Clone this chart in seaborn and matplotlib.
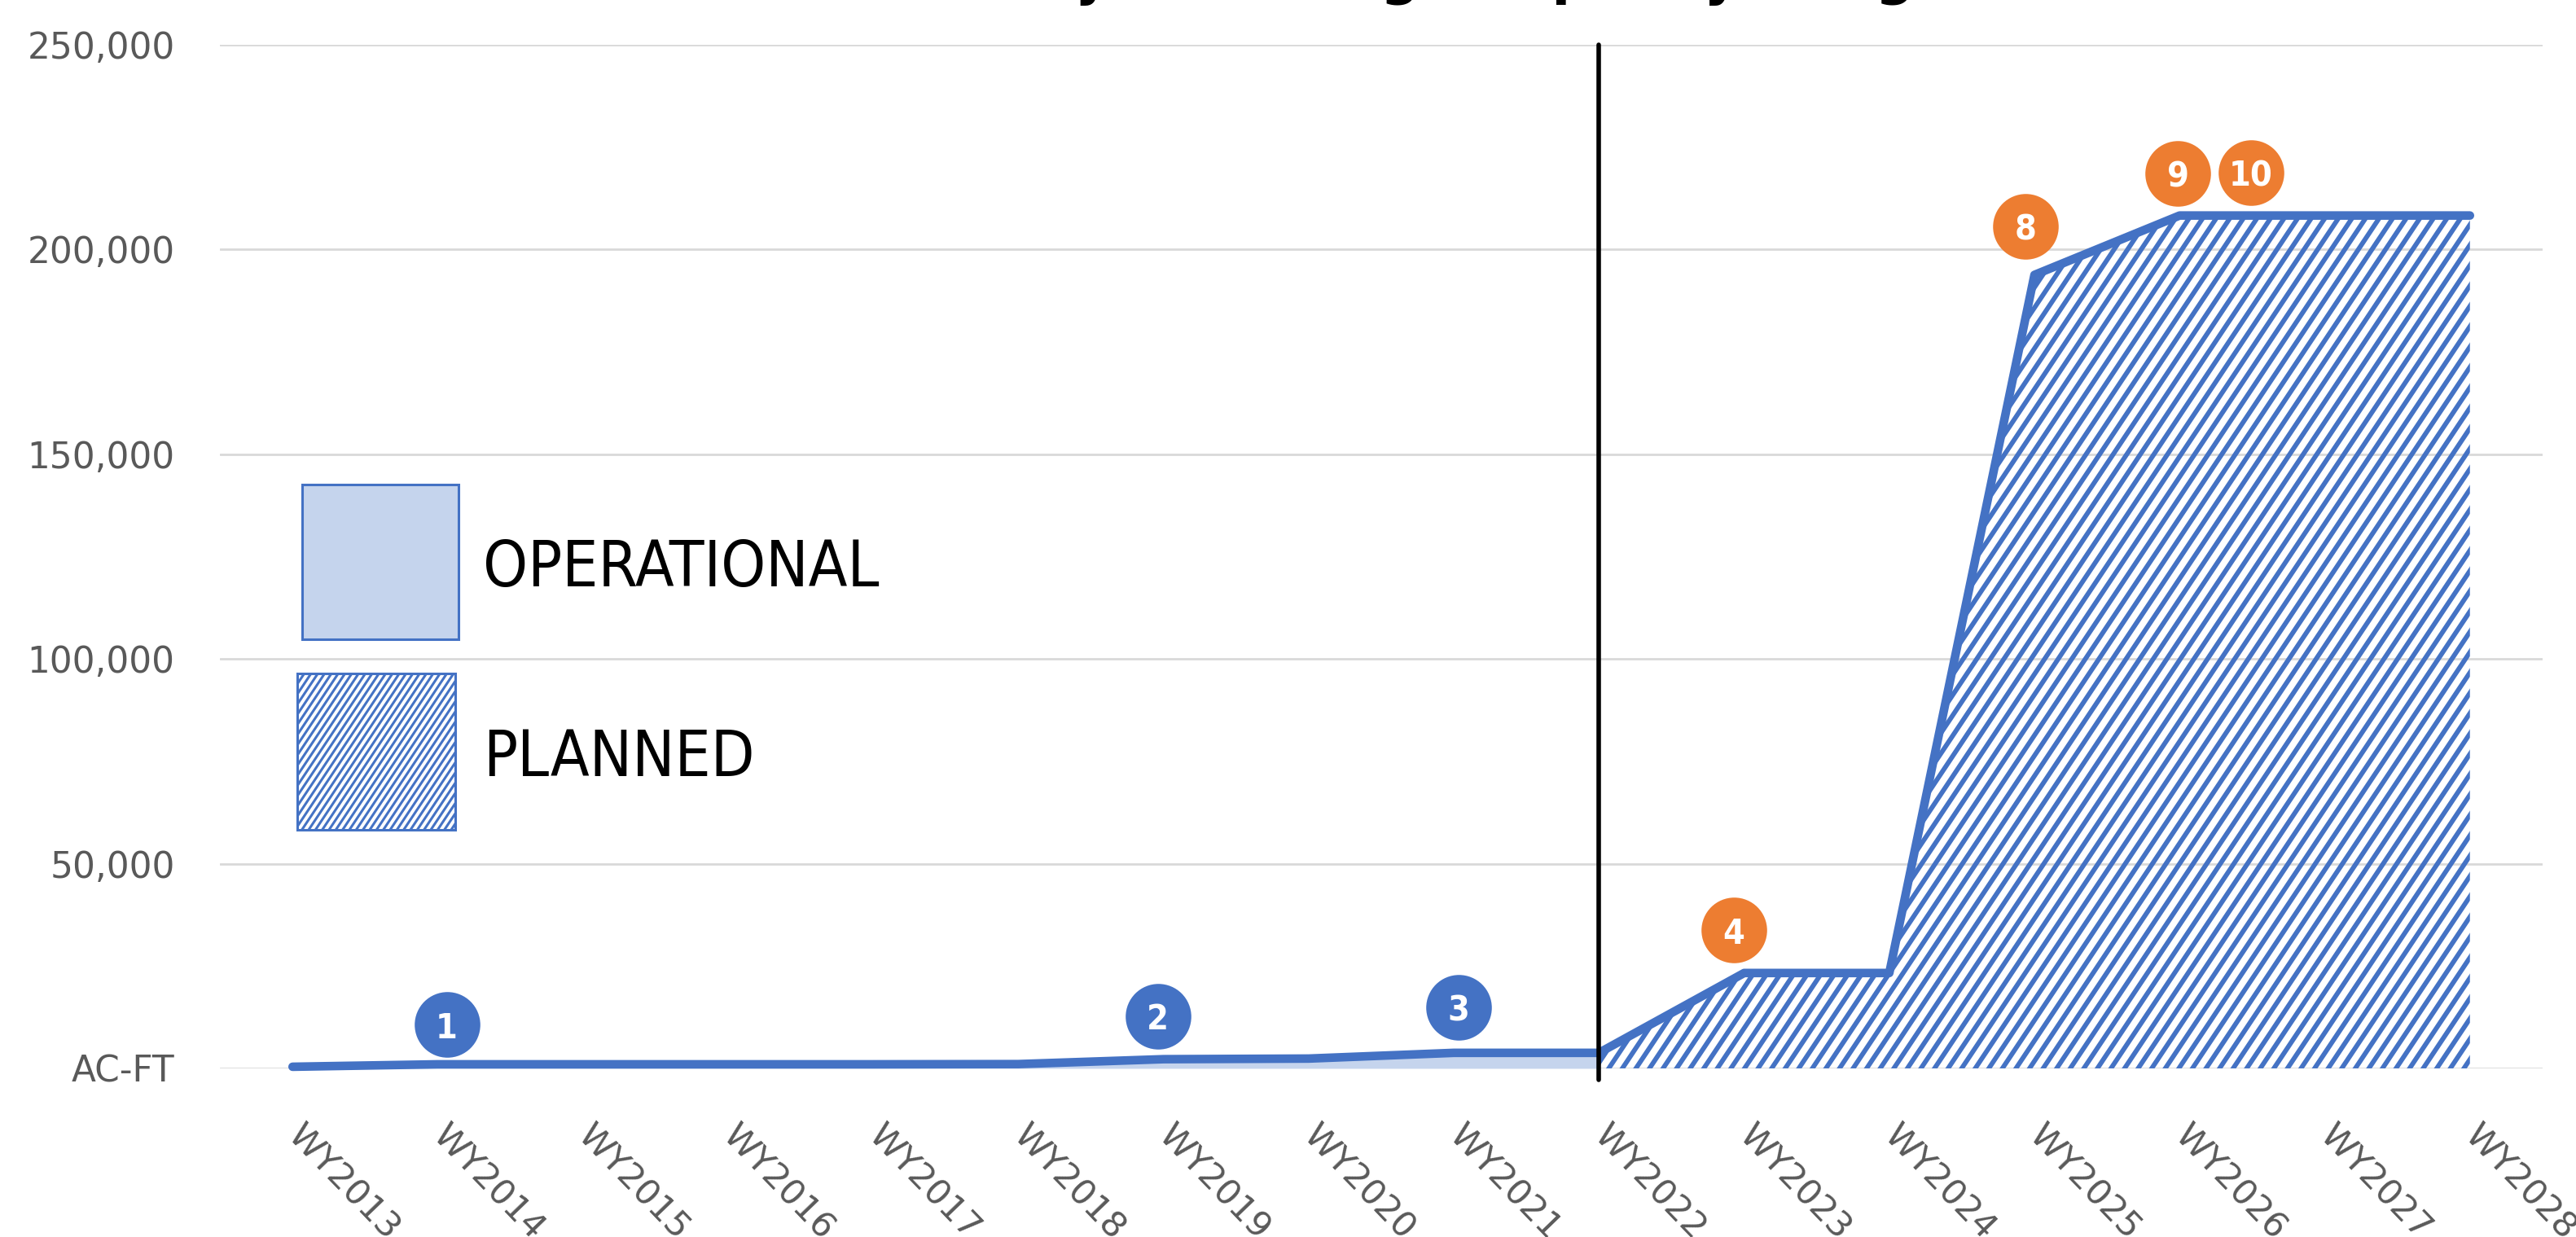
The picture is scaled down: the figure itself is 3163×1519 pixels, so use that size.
import numpy as np
import pandas as pd
import matplotlib
matplotlib.use("Agg")
import matplotlib as mpl
import matplotlib.pyplot as plt
import matplotlib.transforms as mtransforms
from matplotlib import hatch as mhatch
from matplotlib.path import Path
from matplotlib.patches import Rectangle
from matplotlib import font_manager as fm
import seaborn as sns

# ---------------------------------------------------------------- data
years = ["WY2013", "WY2014", "WY2015", "WY2016", "WY2017", "WY2018", "WY2019", "WY2020",
         "WY2021", "WY2022", "WY2023", "WY2024", "WY2025", "WY2026", "WY2027", "WY2028"]

# operational capacity, WY2013 - WY2022 (AC-FT)
operational = [400, 1000, 1000, 1000, 1000, 1050, 2250, 2400, 3800, 3800]
# planned capacity, WY2022 - WY2028 (AC-FT)
planned = [3800, 23300, 23300, 193800, 208300, 208300, 208300]
split_year = "WY2022"

y_ticks = [0, 50000, 100000, 150000, 200000, 250000]
y_tick_labels = ["AC-FT", "50,000", "100,000", "150,000", "200,000", "250,000"]

program_ids = ["1", "2", "3", "4", "8", "9", "10"]
program_years = ["WY2014", "WY2019", "WY2021", "WY2023", "WY2025", "WY2026", "WY2026"]
program_status = ["Operational", "Operational", "Operational",
                  "Planned", "Planned", "Planned", "Planned"]

legend_labels = ["OPERATIONAL", "PLANNED"]
title_text = "Total Project Storage Capacity Range"

# ---------------------------------------------------------------- style
BLUE = "#4472C4"
LIGHT = "#C5D4ED"
ORANGE = "#ED7D31"
GRAY = "#595959"
GRID = "#D9D9D9"


class SteepDiagonalHatch(mhatch.HatchPatternBase):
    """'/' hatch drawn at a steeper angle (slope 1.5) than the default 45 degrees."""

    SLOPE = 1.5

    def __init__(self, hatch, density):
        n = (hatch.count("/") * density) // 2
        self.offsets = np.arange(-2 * n, 2 * n + 1) / n if n else np.array([])
        self.num_vertices = 2 * len(self.offsets)

    def set_vertices_and_codes(self, vertices, codes):
        c = self.offsets
        k = self.SLOPE
        vertices[0::2, 0] = c - 0.5 / k
        vertices[0::2, 1] = -0.5
        vertices[1::2, 0] = c + 1.5 / k
        vertices[1::2, 1] = 1.5
        codes[0::2] = Path.MOVETO
        codes[1::2] = Path.LINETO


mhatch._hatch_types = [SteepDiagonalHatch if t is mhatch.NorthEastHatch else t
                       for t in mhatch._hatch_types]

sns.set_theme(style="white")
plt.rcParams["font.family"] = ["DejaVu Sans"]
plt.rcParams["hatch.linewidth"] = 4.2

_installed = {f.name for f in fm.fontManager.ttflist}
NARROW = "Liberation Sans Narrow" if "Liberation Sans Narrow" in _installed else "DejaVu Sans"
narrow_kw = {"family": NARROW, "stretch": "condensed"}

fig = plt.figure(figsize=(31.63, 15.19), dpi=100)
ax = fig.add_axes([0.0854, 0.1363, 0.9016, 0.8275])

x_idx = np.arange(len(years))
split = years.index(split_year)
total = operational + planned[1:]
df = pd.DataFrame({"year": years, "x": x_idx, "capacity": total})

# areas
ax.fill_between(x_idx[: split + 1], 0, operational, color=LIGHT, lw=0, zorder=2)
ax.fill_between(x_idx[split:], 0, planned, facecolor="none", edgecolor=BLUE,
                hatch="//", lw=0, zorder=2)

# capacity line
sns.lineplot(data=df, x="x", y="capacity", ax=ax, color=BLUE, linewidth=7.6,
             solid_capstyle="round", solid_joinstyle="round", clip_on=False, zorder=4)

# operational / planned divider
ax.axvline(split, ymin=-0.011, ymax=1, color="black", lw=4, clip_on=False, zorder=5)

# axes
ax.set_xlim(-0.5, len(years) - 0.5)
ax.set_ylim(y_ticks[0], y_ticks[-1])
ax.set_yticks(y_ticks)
ax.set_yticklabels(y_tick_labels)
ax.set_xticks(x_idx)
ax.set_xticklabels(years, rotation=-46, ha="left", va="center", rotation_mode="anchor")
ax.tick_params(axis="y", length=0, pad=40, labelsize=31.5, labelcolor=GRAY)
ax.tick_params(axis="x", length=0, pad=55, labelsize=31, labelcolor=GRAY)
ax.set_xlabel("")
ax.set_ylabel("")
ax.yaxis.grid(True, color=GRID, lw=2)
ax.xaxis.grid(False)
ax.set_axisbelow(True)
sns.despine(ax=ax, left=True, bottom=True)

# numbered program callouts (offsets in points from the line)
callout_offsets = [(8, 35), (-5, 38), (4, 40), (-9, 38), (-8, 43), (-1.5, 37), (63, 38)]
for pid, yr, st, (dx, dy) in zip(program_ids, program_years, program_status, callout_offsets):
    xi = years.index(yr)
    yv = total[xi]
    tr = mtransforms.offset_copy(ax.transData, fig=fig, x=dx, y=dy, units="points")
    col = BLUE if st == "Operational" else ORANGE
    ax.plot([xi], [yv], marker="o", ms=58, color=col, mec="none", ls="none",
            transform=tr, clip_on=False, zorder=6)
    ax.text(xi, yv, pid, transform=tr, ha="center", va="center_baseline",
            color="white", fontsize=35 if NARROW != "DejaVu Sans" else 31,
            fontweight="bold", zorder=7, **narrow_kw)

# legend
ax.add_patch(Rectangle((0.0354, 0.4193), 0.0673, 0.1511, transform=ax.transAxes,
                       facecolor=LIGHT, edgecolor=BLUE, lw=2.2, clip_on=False, zorder=6))
with mpl.rc_context({"hatch.linewidth": 2.2}):
    ax.add_patch(Rectangle((0.0333, 0.2331), 0.0680, 0.1527, transform=ax.transAxes,
                           facecolor="white", edgecolor=BLUE, hatch="////", lw=2.2,
                           clip_on=False, zorder=6))
legend_size = 62 if NARROW != "DejaVu Sans" else 56
ax.text(0.1133, 0.4948, legend_labels[0], transform=ax.transAxes, ha="left",
        va="center_baseline", fontsize=legend_size, color="black", **narrow_kw)
ax.text(0.1133, 0.3095, legend_labels[1], transform=ax.transAxes, ha="left",
        va="center_baseline", fontsize=legend_size, color="black", **narrow_kw)

# title
ax.text(0.5, 1.0505, title_text, transform=ax.transAxes, ha="center", va="baseline",
        fontsize=48, fontweight="bold", color="black")

fig.savefig("out.png", dpi=100, facecolor="white")
